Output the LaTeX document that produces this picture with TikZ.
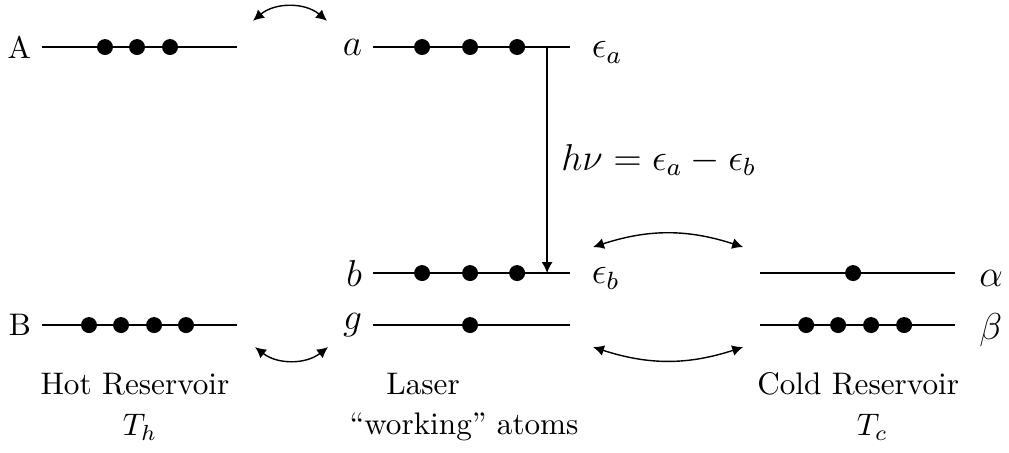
\documentclass[tikz,border=0pt]{standalone}
\usepackage{amsmath}
\usetikzlibrary{arrows.meta,positioning}

\tikzset{
  level/.style={line width=0.45pt},
  atom/.style={circle, fill=black, inner sep=0pt, minimum size=1.8mm},
  swap/.style={{Latex[length=3.5pt,width=3.5pt]}-{Latex[length=3.5pt,width=3.5pt]}, line width=0.45pt},
  mathlbl/.style={font=\large},
}

\begin{document}
\begin{tikzpicture}
  \useasboundingbox (0,0) rectangle (11.37,5.094);

  % level end points
  \coordinate (A0) at (0.473,4.564);  \coordinate (A1) at (2.671,4.564);
  \coordinate (B0) at (0.473,1.431);  \coordinate (B1) at (2.671,1.431);
  \coordinate (a0) at (4.204,4.564);  \coordinate (a1) at (6.424,4.564);
  \coordinate (b0) at (4.204,2.017);  \coordinate (b1) at (6.424,2.017);
  \coordinate (g0) at (4.204,1.431);  \coordinate (g1) at (6.424,1.431);
  \coordinate (al0) at (8.565,2.017); \coordinate (al1) at (10.763,2.017);
  \coordinate (be0) at (8.565,1.431); \coordinate (be1) at (10.763,1.431);

  % levels
  \draw[level] (A0) -- (A1);
  \draw[level] (B0) -- (B1);
  \draw[level] (a0) -- (a1);
  \draw[level] (b0) -- (b1);
  \draw[level] (g0) -- (g1);
  \draw[level] (al0) -- (al1);
  \draw[level] (be0) -- (be1);

  % level names
  \node[left=0pt of A0] (nA) {A};
  \node[left=0pt of B0] (nB) {B};
  \node[mathlbl, left=0pt of a0] (na) {$a$};
  \node[mathlbl, left=0pt of b0] (nb) {$b$};
  \node[mathlbl, left=0pt of g0] (ng) {$g$};
  \node[mathlbl, right=0.12 of a1, yshift=-0.6mm] (ea) {$\epsilon_a$};
  \node[mathlbl, right=0.12 of b1, yshift=-0.6mm] (eb) {$\epsilon_b$};
  \node[mathlbl, right=0.15 of al1, yshift=-0.6mm] (nal) {$\alpha$};
  \node[mathlbl, right=0.15 of be1, yshift=-0.6mm] (nbe) {$\beta$};

  % atoms
  \foreach \x [count=\i] in {1.183,1.544,1.916}
    \node[atom] (A-\i) at (\x,4.564) {};
  \foreach \x [count=\i] in {1.003,1.364,1.736,2.096}
    \node[atom] (B-\i) at (\x,1.431) {};
  \foreach \x [count=\i] in {4.756,5.297,5.827} {
    \node[atom] (a-\i) at (\x,4.564) {};
    \node[atom] (b-\i) at (\x,2.017) {};
  }
  \node[atom] (g-1) at (5.297,1.431) {};
  \node[atom] (al-1) at (9.613,2.017) {};
  \foreach \x [count=\i] in {9.084,9.444,9.816,10.188}
    \node[atom] (be-\i) at (\x,1.431) {};

  % lasing transition
  \coordinate (emit) at (6.165,4.564);
  \coordinate (land) at (6.165,2.017);
  \draw[-{Latex[length=3.5pt,width=3.5pt]}, line width=0.45pt] (emit) -- (land)
    node[mathlbl, midway, right=1pt] (hnu) {$h\nu = \epsilon_a - \epsilon_b$};

  % exchange with the reservoirs
  \coordinate (xA) at (2.851,4.860);  \coordinate (xa) at (3.685,4.860);
  \coordinate (xB) at (2.874,1.183);  \coordinate (xg) at (3.697,1.183);
  \coordinate (xb) at (6.683,2.310);  \coordinate (xal) at (8.374,2.310);
  \coordinate (xg2) at (6.683,1.183); \coordinate (xbe) at (8.374,1.183);
  \draw[swap] (xA) to[bend left=40] (xa);
  \draw[swap] (xB) to[bend right=38] (xg);
  \draw[swap] (xb) to[bend left=18] (xal);
  \draw[swap] (xg2) to[bend right=18] (xbe);

  % captions
  \node (hot) at (1.521,0.766) {Hot Reservoir};
  \node (Th) at (1.578,0.282) {$T_h$};
  \node (laser) at (4.767,0.766) {Laser};
  \node (work) at (5.229,0.282) {``working'' atoms};
  \node (cold) at (9.670,0.766) {Cold Reservoir};
  \node (Tc) at (9.830,0.282) {$T_c$};
\end{tikzpicture}
\end{document}
